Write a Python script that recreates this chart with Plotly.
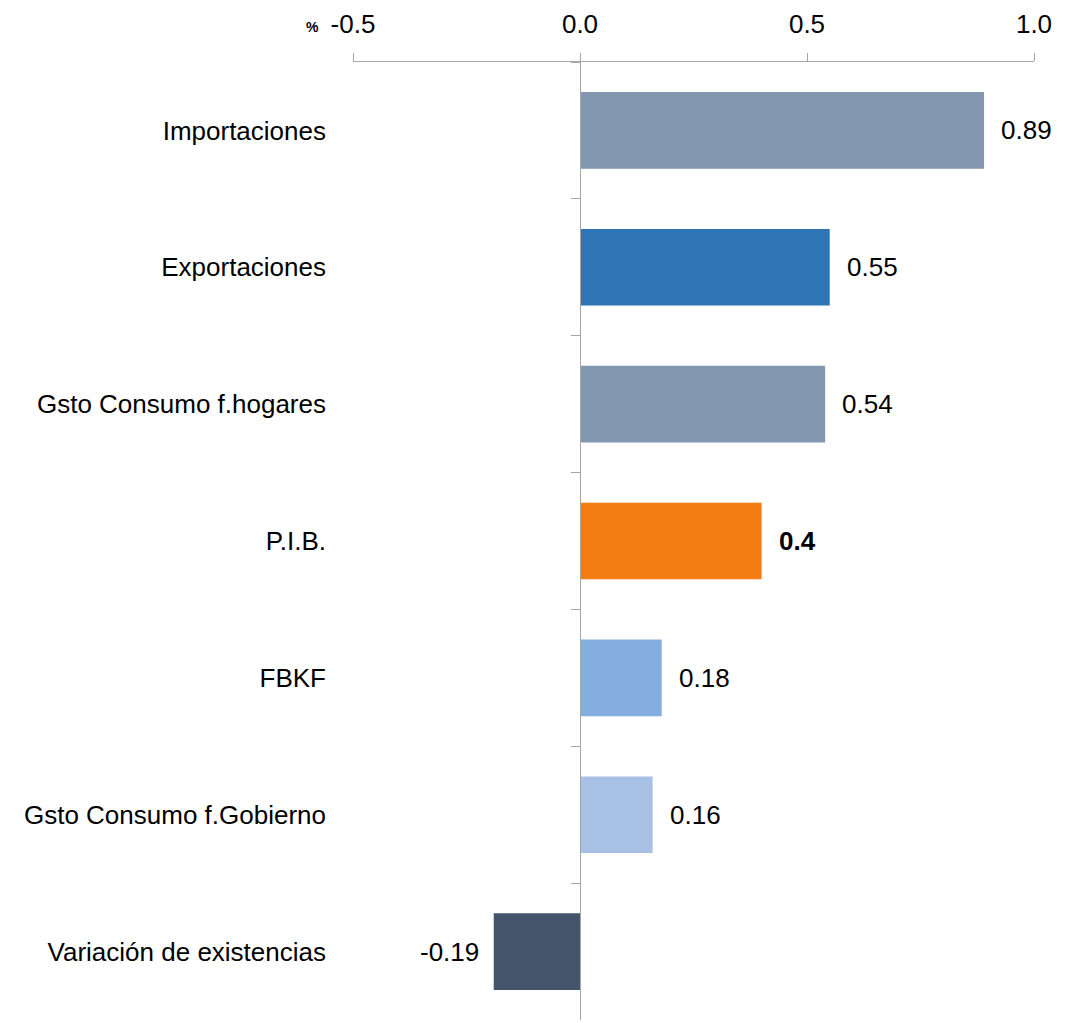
import plotly.graph_objects as go

categories = ["Importaciones", "Exportaciones", "Gsto Consumo f.hogares", "P.I.B.",
              "FBKF", "Gsto Consumo f.Gobierno", "Variación de existencias"]
values = [0.89, 0.55, 0.54, 0.4, 0.18, 0.16, -0.19]
labels = ["0.89", "0.55", "0.54", "0.4", "0.18", "0.16", "-0.19"]
colors = ["#8497B0", "#2E75B6", "#8497B0", "#F47A12", "#84AEDF", "#A8C0E4", "#44546A"]
bold = [False, False, False, True, False, False, False]
x_ticks = [-0.5, 0.0, 0.5, 1.0]

FONT = "Liberation Sans Narrow, Arial Narrow, Liberation Sans, Arial, sans-serif"
GRAY = "#A6A6A6"
FS = 26

fig = go.Figure()
fig.add_trace(go.Bar(x=values, y=categories, orientation="h",
                     marker=dict(color=colors, line=dict(width=0)),
                     width=0.56, showlegend=False, hoverinfo="skip"))
fig.add_trace(go.Scatter(x=[0] * len(categories), y=categories, yaxis="y2",
                         mode="markers", marker=dict(opacity=0),
                         showlegend=False, hoverinfo="skip"))

for c, v, t, b in zip(categories, values, labels, bold):
    fig.add_annotation(x=v, y=c, text=f"<b>{t}</b>" if b else t, showarrow=False,
                       xanchor="left" if v >= 0 else "right",
                       xshift=15 if v >= 0 else -13,
                       font=dict(family=FONT, size=FS, color="#000000"))

fig.add_annotation(xref="paper", yref="paper",
                   x=(312 - 353) / (1034 - 353), y=1 + (62 - 27) / (1020 - 62),
                   xanchor="center", yanchor="middle", text="<b>%</b>", showarrow=False,
                   font=dict(family=FONT, size=14, color="#000000"))

fig.update_layout(
    width=1071, height=1023,
    margin=dict(l=345, r=45, t=54, b=11),
    paper_bgcolor="white", plot_bgcolor="white",
    font=dict(family=FONT, size=FS, color="#000000"),
    xaxis=dict(side="top", range=[-0.5, 1.0], tickvals=x_ticks,
               ticktext=[f"{v:.1f}" for v in x_ticks],
               showline=True, linecolor=GRAY, linewidth=1,
               ticks="outside", ticklen=8, tickcolor=GRAY,
               showgrid=False, zeroline=False, automargin=False,
               ticklabelstandoff=10,
               tickfont=dict(family=FONT, size=FS)),
    yaxis=dict(type="category", categoryorder="array", categoryarray=categories,
               range=[6.5, -0.5], showline=False, showgrid=False, zeroline=False,
               ticks="", ticklabelstandoff=26, automargin=False,
               tickfont=dict(family=FONT, size=FS)),
    yaxis2=dict(type="category", categoryorder="array", categoryarray=categories,
                range=[6.5, -0.5], overlaying="y", anchor="free", position=1 / 3,
                showline=True, linecolor=GRAY, linewidth=1,
                ticks="outside", tickson="boundaries", ticklen=9, tickcolor=GRAY,
                showticklabels=False, showgrid=False, zeroline=False),
)

fig.write_html("out.html")
